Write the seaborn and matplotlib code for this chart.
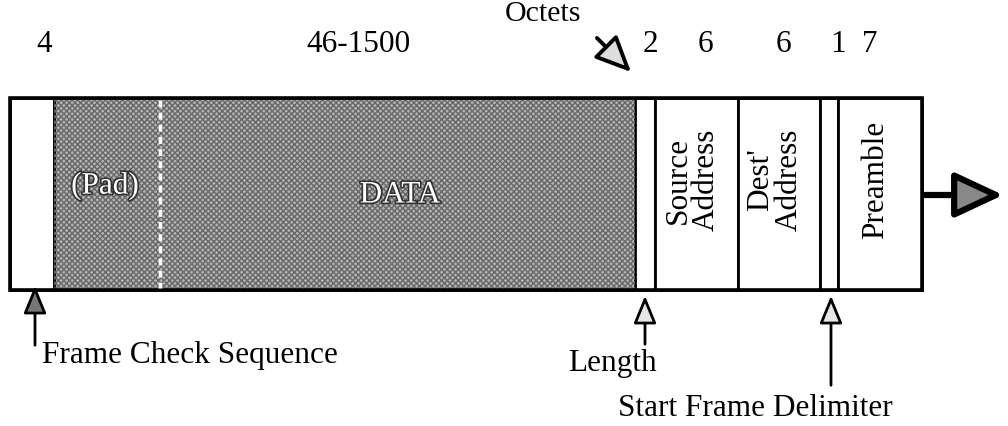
import matplotlib
matplotlib.use("Agg")
import matplotlib.pyplot as plt
import matplotlib.patheffects as pe
import seaborn as sns

# frame fields, right-most is sent first
fields = ["FCS", "DATA", "Length", "Source\nAddress", "Dest'\nAddress", "SFD", "Preamble"]
octets = ["4", "46-1500", "2", "6", "6", "1", "7"]
pointers = ["Frame Check Sequence", "Length", "Start Frame Delimiter"]

# layout (pixels) - diagram is not to scale
edges = [10, 54, 635, 655, 738, 820, 838, 922]
octet_x = [44, 358, 650, 705, 783, 838, 870]
TOP, BOT = 98, 290

sns.set_theme(style="white")
plt.rcParams["font.family"] = ["Liberation Serif", "DejaVu Serif"]
plt.rcParams["text.color"] = "black"

fig = plt.figure(figsize=(10.08, 4.26), dpi=100)
ax = fig.add_axes([0, 0, 1, 1])
ax.set_xlim(0, 1008)
ax.set_ylim(426, 0)
ax.axis("off")

lefts = edges[:-1]
widths = [b - a for a, b in zip(edges[:-1], edges[1:])]
colors = ["white" if f != "DATA" else "#b4b4b4" for f in fields]
ax.bar(lefts, BOT - TOP, width=widths, bottom=TOP, align="edge",
       color=colors, edgecolor="black", linewidth=2)
# checker texture on data field
ax.bar(edges[1], BOT - TOP, width=widths[1], bottom=TOP, align="edge",
       color="none", edgecolor="#686868", hatch="xxxxxx", linewidth=0)
ax.bar(edges[0], BOT - TOP, width=edges[-1] - edges[0], bottom=TOP, align="edge",
       color="none", edgecolor="black", linewidth=2.6)

# pad separator
ax.plot([160, 160], [TOP + 2, BOT - 2], color="white", lw=2.5, ls=(0, (2, 1.5)))

fs = 22.5
outline = [pe.withStroke(linewidth=2.4, foreground="#333333")]
ax.text(105, 186, "(Pad)", ha="center", va="center", fontsize=fs, color="white",
        path_effects=outline)
ax.text(400, 195, "DATA", ha="center", va="center", fontsize=fs, color="white",
        path_effects=outline)

for f, a, b in zip(fields, edges[:-1], edges[1:]):
    if "Address" in f or f == "Preamble":
        ax.text((a + b) / 2 - 4, 180, f, rotation=90, ha="center", va="center",
                fontsize=fs, linespacing=0.95, multialignment="center")

for lab, x in zip(octets, octet_x):
    ax.text(x, 45, lab, ha="center", va="center", fontsize=fs)

ax.text(543, 14, "Octets", ha="center", va="center", fontsize=fs - 1)
ax.annotate("", xy=(633, 74), xytext=(595, 36),
            arrowprops=dict(arrowstyle="-|>,head_length=22,head_width=10",
                            mutation_scale=1, lw=2.8, fc="#dddddd", ec="black"))

# pointer arrows under the frame
ptr_x = [35, 645, 831]
ptr_end = [348, 347, 388]
ptr_tip = [BOT - 7, BOT + 3, BOT + 3]
ptr_fill = ["#777777", "#e6e6e6", "#e6e6e6"]
for x, y0, y1, c in zip(ptr_x, ptr_tip, ptr_end, ptr_fill):
    ax.annotate("", xy=(x, y0), xytext=(x, y1),
                arrowprops=dict(arrowstyle="-|>,head_length=17,head_width=7",
                                mutation_scale=1, lw=2, fc=c, ec="black"))

ax.text(42, 356, pointers[0], ha="left", va="center", fontsize=fs)
ax.text(612, 363, pointers[1], ha="center", va="center", fontsize=fs)
ax.text(755, 408, pointers[2], ha="center", va="center", fontsize=fs)

# transmission direction
ax.annotate("", xy=(1006, 195), xytext=(922, 195),
            arrowprops=dict(arrowstyle="-|>,head_length=30,head_width=14",
                            mutation_scale=1, lw=4.5, fc="#888888", ec="black"))

fig.savefig("out.png", dpi=100)
